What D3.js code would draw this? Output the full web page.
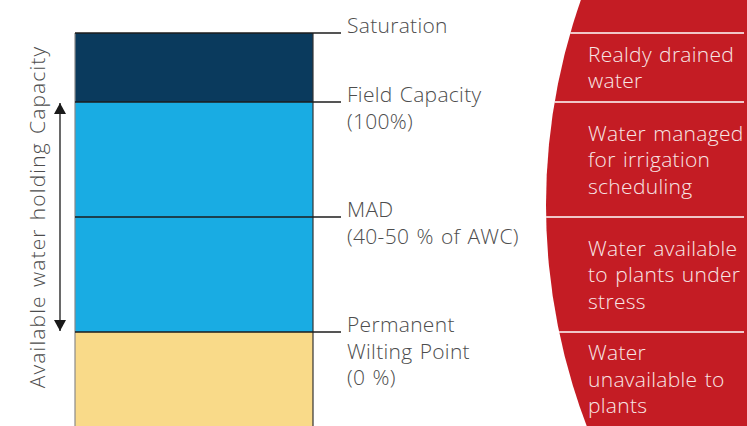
<!DOCTYPE html>
<html>
<head>
<meta charset="utf-8">
<script src="https://cdn.jsdelivr.net/npm/d3@7"></script>
<style>
    html, body { margin: 0; padding: 0; background: #fff; }
    svg { display: block; }
    .lbl { font-family: "Open Sans", sans-serif; font-weight: 300; font-size: 21px; letter-spacing: 0.3px; word-spacing: 1.5px; fill: #4d4d4d; }
    .zone { font-family: "Open Sans", sans-serif; font-weight: 300; font-size: 21px; letter-spacing: 0.3px; word-spacing: 1.5px; fill: #f8e6e6; }
    .title { letter-spacing: 1.15px; }
</style>
</head>
<body>
<svg id="canvas" width="747" height="426"></svg>
<script>
// water levels, in % of available water capacity (AWC)
var levelNames = ["Saturation", "Field Capacity", "MAD", "Permanent Wilting Point", "bottom"];
var levelValues = [130, 100, 50, 0, -41];
var levelLabels = [["Saturation"], ["Field Capacity", "(100%)"], ["MAD", "(40-50 % of AWC)"], ["Permanent", "Wilting Point", "(0 %)"]];

// bands of the soil column, top to bottom
var bandColors = ["#0a3a5d", "#19ace3", "#19ace3", "#f9da89"];
var zoneLabels = [
    ["Realdy drained", "water"],
    ["Water managed", "for irrigation", "scheduling"],
    ["Water available", "to plants under", "stress"],
    ["Water", "unavailable to", "plants"]
];
var axisTitle = "Available water holding Capacity";

var svg = d3.select("#canvas");
var y = d3.scaleLinear().domain([0, 100]).range([332, 102]);
var colX0 = 75, colX1 = 313, lineH = 26.5;

// red zone panel with a curved left edge (part of a big circle)
var cx = 1166, cy = 205, r = 620;
svg.append("circle").attr("cx", cx).attr("cy", cy).attr("r", r).attr("fill", "#c41c24");

function edgeX(yy) {
    return cx - Math.sqrt(r * r - (yy - cy) * (yy - cy));
}

// soil column bands
var bands = d3.range(bandColors.length).map(function (i) {
    return {top: levelValues[i], bottom: levelValues[i + 1], color: bandColors[i]};
});
svg.selectAll("rect.band").data(bands).enter().append("rect")
    .attr("class", "band")
    .attr("x", colX0)
    .attr("y", function (d) { return y(d.top); })
    .attr("width", colX1 - colX0)
    .attr("height", function (d) { return y(d.bottom) - y(d.top); })
    .attr("fill", function (d) { return d.color; });

// column side borders
svg.append("line").attr("x1", colX0).attr("x2", colX0)
    .attr("y1", y(levelValues[0])).attr("y2", y(levelValues[4]))
    .attr("stroke", "#8a8a8a").attr("stroke-width", 1.2);
svg.append("line").attr("x1", colX1).attr("x2", colX1)
    .attr("y1", y(levelValues[0])).attr("y2", y(levelValues[4]))
    .attr("stroke", "#333").attr("stroke-width", 1.2);

// level lines across the column and out to the labels
var levels = levelValues.slice(0, 4);
svg.selectAll("line.level").data(levels).enter().append("line")
    .attr("class", "level")
    .attr("x1", colX0).attr("x2", 341)
    .attr("y1", function (d) { return y(d); })
    .attr("y2", function (d) { return y(d); })
    .attr("stroke", "#1c1c1c").attr("stroke-width", 1.4);

// level labels
levels.forEach(function (v, i) {
    var t = svg.append("text").attr("class", "lbl")
        .attr("x", 347).attr("y", y(v));
    levelLabels[i].forEach(function (s, j) {
        t.append("tspan").attr("x", 347).attr("dy", j === 0 ? 0 : lineH).text(s);
    });
});

// white separators in the red panel
svg.selectAll("line.sep").data(levels).enter().append("line")
    .attr("class", "sep")
    .attr("x1", function (d) { return edgeX(y(d)); })
    .attr("x2", 744)
    .attr("y1", function (d) { return y(d); })
    .attr("y2", function (d) { return y(d); })
    .attr("stroke", "#fff").attr("stroke-width", 1.5);

// zone texts, centered vertically in each band
bands.forEach(function (b, i) {
    var top = y(b.top), bot = Math.min(y(b.bottom), 426);
    var n = zoneLabels[i].length;
    var capH = 15;
    var blockH = capH + (n - 1) * lineH;
    var first = (top + bot) / 2 - blockH / 2 + capH;
    var t = svg.append("text").attr("class", "zone").attr("x", 588).attr("y", first);
    zoneLabels[i].forEach(function (s, j) {
        t.append("tspan").attr("x", 588).attr("dy", j === 0 ? 0 : lineH).text(s);
    });
});

// double headed arrow for the available water
svg.append("defs").selectAll("marker").data(["start", "end"]).enter().append("marker")
    .attr("id", function (d) { return "arr-" + d; })
    .attr("viewBox", "0 0 12 11")
    .attr("refX", 6).attr("refY", function (d) { return d === "start" ? 0 : 11; })
    .attr("markerWidth", 12).attr("markerHeight", 11)
    .attr("markerUnits", "userSpaceOnUse")
    .attr("orient", "0")
    .append("path")
    .attr("d", function (d) { return d === "start" ? "M6,0L12,11L0,11Z" : "M0,0L12,0L6,11Z"; })
    .attr("fill", "#1a1a1a");
svg.append("line")
    .attr("x1", 60).attr("x2", 60)
    .attr("y1", y(100) + 1).attr("y2", y(0) - 1)
    .attr("stroke", "#1a1a1a").attr("stroke-width", 1.3)
    .attr("marker-start", "url(#arr-start)")
    .attr("marker-end", "url(#arr-end)");

svg.append("text").attr("class", "lbl title")
    .attr("transform", "translate(45," + y(50) + ") rotate(-90)")
    .attr("text-anchor", "middle")
    .text(axisTitle);
</script>
</body>
</html>
